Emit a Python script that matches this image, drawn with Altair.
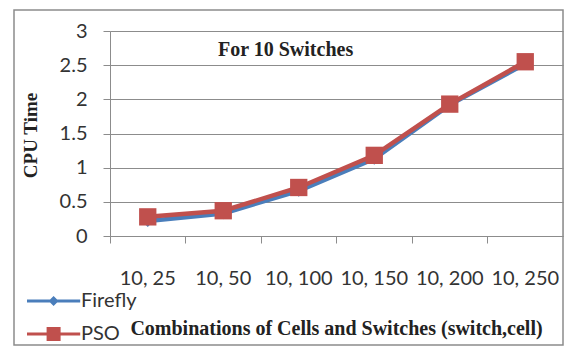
import altair as alt
import pandas as pd

categories = ["10, 25", "10, 50", "10, 100", "10, 150", "10, 200", "10, 250"]
firefly = [0.22, 0.33, 0.66, 1.13, 1.92, 2.52]
pso = [0.28, 0.37, 0.71, 1.18, 1.93, 2.55]
series_names = ["Firefly", "PSO"]
series_colors = ["#4a7ebb", "#c0504d"]
y_ticks = [0, 0.5, 1, 1.5, 2, 2.5, 3]

rows = []
for name, vals in zip(series_names, [firefly, pso]):
    for c, v in zip(categories, vals):
        rows.append({"cat": c, "value": v, "series": name})
df = pd.DataFrame(rows)

W, H = 453, 205
SANS = "Lato"
SERIF = "Liberation Serif"

x_enc = alt.X("cat:N", sort=categories,
              scale=alt.Scale(type="band", paddingInner=0, paddingOuter=0),
              axis=alt.Axis(title="Combinations of Cells and Switches (switch,cell)",
                            bandPosition=0, labelAngle=0, labelFont=SANS, labelFontSize=20,
                            labelColor="#333333", labelPadding=25, labelOverlap=False,
                            tickSize=7, tickColor="#8c8c8c", domainColor="#8c8c8c",
                            grid=False, titleFont=SERIF, titleFontSize=20,
                            titleFontWeight="bold", titleColor="#222222",
                            titleBaseline="middle", titleY=92, titleX=226))
y_enc = alt.Y("value:Q",
              scale=alt.Scale(domain=[0, 3], nice=False),
              axis=alt.Axis(title="CPU Time", values=y_ticks, labelExpr="'' + datum.value",
                            labelFont=SANS, labelFontSize=20, labelColor="#333333",
                            labelPadding=16, tickSize=7, tickColor="#8c8c8c",
                            domainColor="#8c8c8c", gridColor="#8c8c8c",
                            titleFont=SERIF, titleFontSize=19, titleFontWeight="bold",
                            titleColor="#222222", titleAngle=-90, titleBaseline="middle",
                            titleX=-80, titleY=104))

color_scale = alt.Scale(domain=series_names, range=series_colors)
legend = alt.Legend(title=None, orient="none", legendX=-86, legendY=260,
                    labelFont=SANS, labelFontSize=20, labelColor="#333333",
                    symbolSize=196, symbolOpacity=1, symbolStrokeWidth=0,
                    rowPadding=13, labelOffset=37, padding=0)

base = alt.Chart(df)

lines = base.mark_line(strokeWidth=4.5).encode(
    x=x_enc, y=y_enc,
    color=alt.Color("series:N", scale=color_scale, legend=legend),
)

pts_ff = base.transform_filter(alt.datum.series == "Firefly").mark_point(
    shape="diamond", filled=True, size=140, opacity=1).encode(
    x=x_enc, y=y_enc, color=alt.Color("series:N", scale=color_scale, legend=legend))

pts_pso = base.transform_filter(alt.datum.series == "PSO").mark_point(
    shape="square", filled=True, size=300, opacity=1).encode(
    x=x_enc, y=y_enc, color=alt.Color("series:N", scale=color_scale, legend=legend))

legend_paths = [
    "M-1,-0.2H6.6V0.2H-1Z M2.8,-0.72L3.52,0L2.8,0.72L2.08,0Z",
    "M-1,-0.22H6.6V0.22H-1Z M1.8,-1H3.8V1H1.8Z",
]
legend_layer = base.mark_point(filled=True, opacity=0, size=10).encode(
    x=x_enc, y=y_enc,
    color=alt.Color("series:N", scale=color_scale, legend=legend),
    shape=alt.Shape("series:N", scale=alt.Scale(domain=series_names, range=legend_paths),
                    legend=legend),
)

border = base.transform_filter(
    (alt.datum.series == "Firefly") & (alt.datum.cat == categories[0])
).mark_rect(fill="#ffffff", fillOpacity=0, stroke="#8c8c8c", strokeWidth=1.5).encode(
    x=alt.value(-96), x2=alt.value(453), y=alt.value(-21), y2=alt.value(314))

chart = alt.layer(border, lines, pts_ff, pts_pso, legend_layer).properties(
    width=W, height=H,
    title=alt.TitleParams("For 10 Switches", anchor="start", frame="group",
                          font=SERIF, fontSize=20, fontWeight="bold", color="#222222",
                          dx=108, dy=61, baseline="middle", offset=0),
    autosize=alt.AutoSizeParams(type="none"),
    padding={"left": 110, "top": 31, "right": 3, "bottom": 111},
).configure_view(stroke=None).configure(background="white")

chart.save("out.html", embed_options={"renderer": "svg", "actions": False})
